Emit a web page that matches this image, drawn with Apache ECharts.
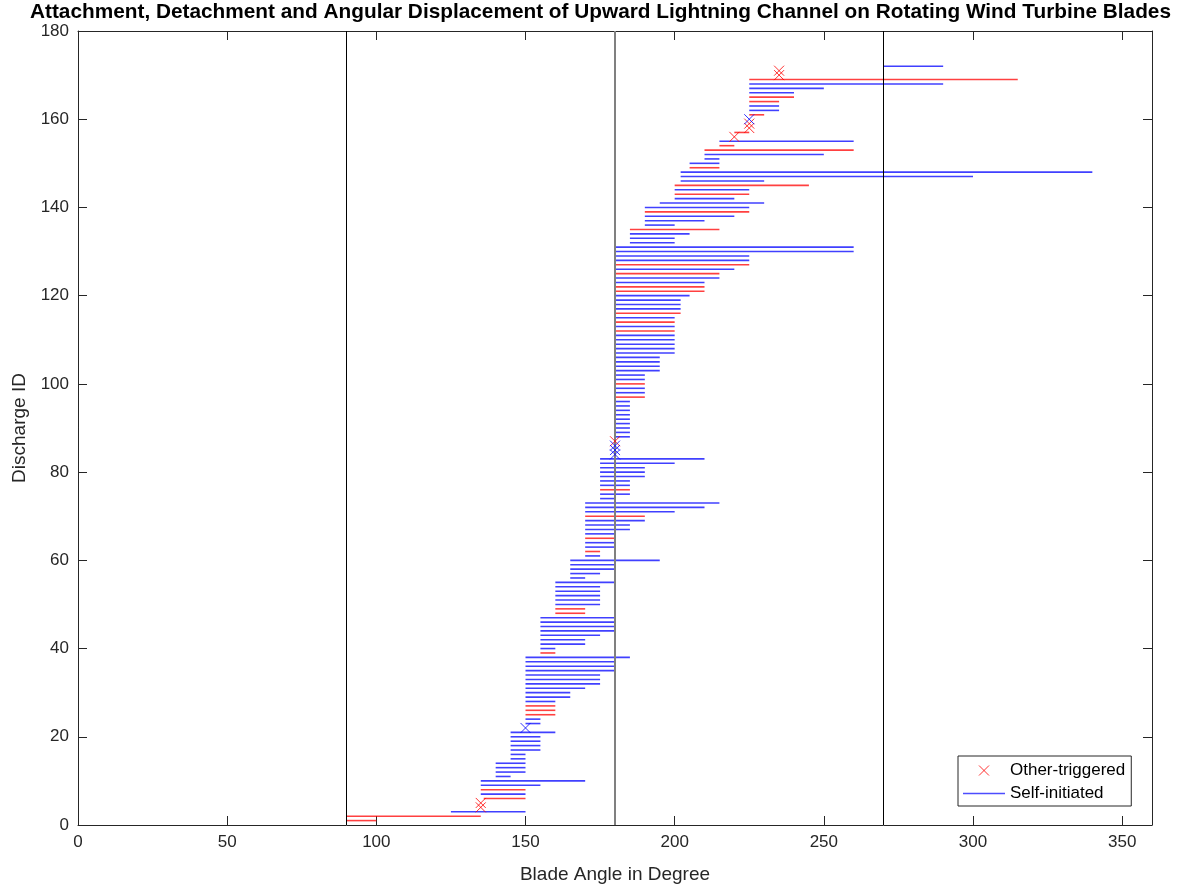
<!DOCTYPE html>
<html>
<head>
<meta charset="utf-8">
<title>Upward lightning channel on rotating blades</title>
<script src="https://cdn.jsdelivr.net/npm/echarts@6.0.0/dist/echarts.min.js"></script>
<style>
	html, body { margin: 0; padding: 0; background: #fff; }
	#chart { width: 1179px; height: 885px; }
</style>
</head>
<body>
<div id="chart"></div>
<script>
// discharge ids, one row per discharge
var dischargeId = [
	1, 2, 3, 4, 5, 6, 7, 8, 9, 10,
	11, 12, 13, 14, 15, 16, 17, 18, 19, 20,
	21, 22, 23, 24, 25, 26, 27, 28, 29, 30,
	31, 32, 33, 34, 35, 36, 37, 38, 39, 40,
	41, 42, 43, 44, 45, 46, 47, 48, 49, 50,
	51, 52, 53, 54, 55, 56, 57, 58, 59, 60,
	61, 62, 63, 64, 65, 66, 67, 68, 69, 70,
	71, 72, 73, 74, 75, 76, 77, 78, 79, 80,
	81, 82, 83, 84, 85, 86, 87, 88, 89, 90,
	91, 92, 93, 94, 95, 96, 97, 98, 99, 100,
	101, 102, 103, 104, 105, 106, 107, 108, 109, 110,
	111, 112, 113, 114, 115, 116, 117, 118, 119, 120,
	121, 122, 123, 124, 125, 126, 127, 128, 129, 130,
	131, 132, 133, 134, 135, 136, 137, 138, 139, 140,
	141, 142, 143, 144, 145, 146, 147, 148, 149, 150,
	151, 152, 153, 154, 155, 156, 157, 158, 159, 160,
	161, 162, 163, 164, 165, 166, 167, 168, 169, 170,
	171, 172
];

// blade angle at attachment (deg)
var attachAngle = [
	90, 90, 125, 135, 135, 136, 135, 135, 135, 135,
	140, 140, 140, 140, 145, 145, 145, 145, 145, 145,
	145, 150, 150, 150, 150, 150, 150, 150, 150, 150,
	150, 150, 150, 150, 150, 150, 150, 150, 155, 155,
	155, 155, 155, 155, 155, 155, 155, 160, 160, 160,
	160, 160, 160, 160, 160, 165, 165, 165, 165, 165,
	170, 170, 170, 170, 170, 170, 170, 170, 170, 170,
	170, 170, 170, 175, 175, 175, 175, 175, 175, 175,
	175, 175, 175, 180, 180, 180, 180, 180, 180, 180,
	180, 180, 180, 180, 180, 180, 180, 180, 180, 180,
	180, 180, 180, 180, 180, 180, 180, 180, 180, 180,
	180, 180, 180, 180, 180, 180, 180, 180, 180, 180,
	180, 180, 180, 180, 180, 180, 180, 180, 180, 180,
	180, 185, 185, 185, 185, 190, 190, 190, 190, 190,
	195, 200, 200, 200, 200, 202, 202, 202, 205, 205,
	210, 210, 210, 215, 215, 220, 220, 225, 225, 225,
	225, 225, 225, 225, 225, 225, 225, 225, 225, 235,
	235, 270
];

// blade angle at detachment (deg)
var detachAngle = [
	100, 135, 150, 135, 135, 150, 150, 150, 155, 170,
	145, 150, 150, 150, 150, 150, 155, 155, 155, 155,
	160, 150, 155, 155, 160, 160, 160, 160, 165, 165,
	170, 175, 175, 175, 180, 180, 180, 185, 160, 160,
	170, 170, 175, 180, 180, 180, 180, 170, 170, 175,
	175, 175, 175, 175, 180, 170, 175, 180, 180, 195,
	175, 175, 180, 180, 180, 180, 185, 185, 190, 190,
	200, 210, 215, 180, 185, 185, 185, 185, 190, 190,
	190, 200, 210, 180, 180, 180, 180, 185, 185, 185,
	185, 185, 185, 185, 185, 185, 190, 190, 190, 190,
	190, 190, 195, 195, 195, 195, 200, 200, 200, 200,
	200, 200, 200, 200, 200, 202, 202, 202, 202, 205,
	210, 210, 210, 215, 215, 220, 225, 225, 225, 260,
	260, 200, 200, 205, 215, 200, 210, 220, 225, 225,
	230, 220, 225, 225, 245, 230, 300, 340, 215, 215,
	215, 250, 260, 220, 260, 220, 225, 225, 225, 225,
	230, 235, 235, 235, 240, 240, 250, 290, 315, 235,
	235, 290
];

// O = other-triggered, S = self-initiated
var trigger = [
	'O', 'O', 'S', 'O', 'O', 'O', 'S', 'O', 'S', 'S',
	'S', 'S', 'S', 'S', 'S', 'S', 'S', 'S', 'S', 'S',
	'S', 'S', 'S', 'S', 'O', 'O', 'O', 'S', 'S', 'S',
	'S', 'S', 'S', 'S', 'S', 'S', 'S', 'S', 'O', 'S',
	'S', 'S', 'S', 'S', 'S', 'S', 'S', 'O', 'O', 'S',
	'S', 'S', 'S', 'S', 'S', 'S', 'S', 'S', 'S', 'S',
	'S', 'O', 'S', 'S', 'O', 'S', 'S', 'S', 'S', 'O',
	'S', 'S', 'S', 'S', 'S', 'O', 'S', 'S', 'S', 'S',
	'S', 'S', 'S', 'S', 'S', 'S', 'O', 'S', 'S', 'S',
	'S', 'S', 'S', 'S', 'S', 'S', 'O', 'S', 'S', 'O',
	'S', 'S', 'S', 'S', 'S', 'S', 'S', 'S', 'S', 'S',
	'S', 'O', 'S', 'O', 'S', 'O', 'S', 'S', 'S', 'S',
	'O', 'O', 'S', 'S', 'O', 'S', 'O', 'S', 'S', 'S',
	'S', 'S', 'S', 'S', 'O', 'S', 'S', 'S', 'O', 'S',
	'S', 'S', 'O', 'S', 'O', 'S', 'S', 'S', 'O', 'S',
	'S', 'S', 'O', 'O', 'S', 'O', 'O', 'O', 'O', 'S',
	'O', 'S', 'S', 'O', 'O', 'S', 'S', 'S', 'O', 'O',
	'O', 'S'
];

// blade position reference lines (deg)
var bladeLines = [90, 180, 270];

var RED = '#ff0000';
var BLUE = '#0000ff';
var AXIS = '#262626';
var FONT = '"Liberation Sans", Arial, Helvetica, sans-serif';

// split into segments and zero-length marks
var segOther = [], segSelf = [], markOther = [], markSelf = [];
for (var i = 0; i < dischargeId.length; i++) {
	var a = attachAngle[i], d = detachAngle[i], id = dischargeId[i];
	if (a === d) {
		(trigger[i] === 'O' ? markOther : markSelf).push([a, id]);
	} else {
		(trigger[i] === 'O' ? segOther : segSelf).push([a, d, id]);
	}
}

function segRender(color) {
	return function (params, api) {
		var p1 = api.coord([api.value(0), api.value(2)]);
		var p2 = api.coord([api.value(1), api.value(2)]);
		return {
			type: 'line',
			shape: { x1: p1[0], y1: p1[1], x2: p2[0], y2: p2[1] },
			style: { stroke: color, lineWidth: 1.6, opacity: 0.75 }
		};
	};
}

var X_PATH = 'path://M0,0L10,10M10,0L0,10';
// legend icons: the M0,0M14,14 pads the box so the cross stays small
var X_ICON = 'path://M0,0M14,14M2,2L12,12M12,2L2,12';
var LINE_ICON = 'path://M0,0H42V1.4H0Z';

var xBase = {
	type: 'value', min: 0, max: 360, interval: 50,
	splitLine: { show: false },
	axisLine: { show: true, onZero: false, lineStyle: { color: AXIS, width: 1 } },
	axisTick: { show: true, inside: true, length: 9, lineStyle: { color: AXIS } }
};
var yBase = {
	type: 'value', min: 0, max: 180, interval: 20,
	splitLine: { show: false },
	axisLine: { show: true, onZero: false, lineStyle: { color: AXIS, width: 1 } },
	axisTick: { show: true, inside: true, length: 9, lineStyle: { color: AXIS } }
};

var chart = echarts.init(document.getElementById('chart'));

chart.setOption({
	backgroundColor: '#fff',
	animation: false,
	//标题
	title: {
		text: 'Attachment, Detachment and Angular Displacement of Upward Lightning Channel on Rotating Wind Turbine Blades',
		left: 30,
		top: 2,
		padding: 0,
		textStyle: { fontFamily: FONT, fontSize: 20.8, fontWeight: 'bold', color: '#000' }
	},
	grid: { left: 78, right: 27, top: 31, bottom: 60, outerBoundsMode: 'none' },
	legend: {
		orient: 'vertical',
		left: 958,
		top: 756,
		padding: [5, 6, 4, 5],
		itemWidth: 42,
		itemHeight: 14,
		itemGap: 5,
		backgroundColor: '#fff',
		borderColor: AXIS,
		borderWidth: 1,
		borderRadius: 0,
		selectedMode: false,
		textStyle: { fontFamily: FONT, fontSize: 17, color: '#000' },
		data: [
			{ name: 'Other-triggered', icon: X_ICON, itemStyle: { color: 'none', borderColor: RED, borderWidth: 1 } },
			{ name: 'Self-initiated', icon: LINE_ICON, itemStyle: { color: '#4d4dff', borderWidth: 0 } }
		]
	},
	xAxis: [
		Object.assign({}, xBase, {
			position: 'bottom',
			name: 'Blade Angle in Degree',
			nameLocation: 'middle',
			nameGap: 40,
			nameTextStyle: { fontFamily: FONT, fontSize: 19, color: AXIS },
			axisLabel: { showMaxLabel: false, margin: 9, fontFamily: FONT, fontSize: 17, color: AXIS }
		}),
		Object.assign({}, xBase, { position: 'top', axisLabel: { show: false } })
	],
	yAxis: [
		Object.assign({}, yBase, {
			position: 'left',
			name: 'Discharge ID',
			nameLocation: 'middle',
			nameRotate: 90,
			nameGap: 46,
			nameTextStyle: { fontFamily: FONT, fontSize: 19, color: AXIS },
			axisLabel: { margin: 9, fontFamily: FONT, fontSize: 17, color: AXIS }
		}),
		Object.assign({}, yBase, { position: 'right', axisLabel: { show: false } })
	],
	series: [
		{
			name: 'Self-initiated',
			type: 'custom',
			renderItem: segRender(BLUE),
			itemStyle: { color: BLUE },
			encode: { x: [0, 1], y: 2 },
			data: segSelf,
			markLine: {
				silent: true,
				symbol: ['none', 'none'],
				label: { show: false },
				data: bladeLines.map(function (v) {
					return {
						xAxis: v,
						lineStyle: v === 180
							? { color: '#808080', width: 2, type: 'solid', opacity: 1 }
							: { color: '#000', width: 1, type: 'solid', opacity: 1 }
					};
				})
			}
		},
		{
			name: 'Other segments',
			type: 'custom',
			renderItem: segRender(RED),
			itemStyle: { color: RED },
			encode: { x: [0, 1], y: 2 },
			data: segOther
		},
		{
			name: 'Other-triggered',
			type: 'scatter',
			symbol: X_PATH,
			symbolSize: 10,
			itemStyle: { color: 'none', borderColor: RED, borderWidth: 1 },
			data: markOther,
			z: 5
		},
		{
			name: 'Self marks',
			type: 'scatter',
			symbol: X_PATH,
			symbolSize: 10,
			itemStyle: { color: 'none', borderColor: BLUE, borderWidth: 1 },
			data: markSelf,
			z: 5
		}
	]
});
</script>
</body>
</html>
